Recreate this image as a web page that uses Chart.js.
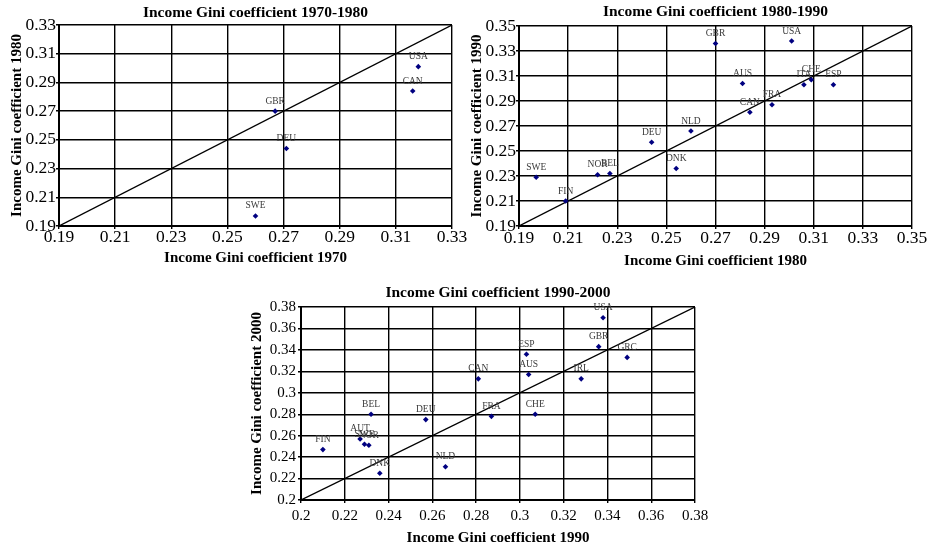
<!DOCTYPE html>
<html>
<head>
<meta charset="utf-8">
<script src="https://cdn.jsdelivr.net/npm/chart.js@4/dist/chart.umd.min.js"></script>
<style>
  html, body { margin: 0; padding: 0; background: #fff; }
  body { width: 931px; height: 548px; position: relative; overflow: hidden; }
  .box { position: absolute; }
</style>
</head>
<body>
<div class="box" style="left:0;top:0;width:475px;height:270px"><canvas id="c1"></canvas></div>
<div class="box" style="left:460px;top:0;width:471px;height:270px"><canvas id="c2"></canvas></div>
<div class="box" style="left:230px;top:280px;width:515px;height:268px"><canvas id="c3"></canvas></div>
<script>
(function() {
  'use strict';

  // --- data ---
  var TICKS_1 = [0.19, 0.21, 0.23, 0.25, 0.27, 0.29, 0.31, 0.33];
  var CODES_1 = ['USA', 'CAN', 'GBR', 'DEU', 'SWE'];
  var GINI_1970 = [0.318, 0.316, 0.267, 0.271, 0.260];
  var GINI_1980_A = [0.301, 0.284, 0.270, 0.244, 0.197];

  var TICKS_2 = [0.19, 0.21, 0.23, 0.25, 0.27, 0.29, 0.31, 0.33, 0.35];
  var CODES_2 = ['GBR', 'USA', 'AUS', 'CHE', 'ITA', 'ESP', 'FRA', 'CAN', 'NLD', 'DEU', 'DNK', 'SWE', 'NOR', 'BEL', 'FIN'];
  var GINI_1980_B = [0.270, 0.301, 0.281, 0.309, 0.306, 0.318, 0.293, 0.284, 0.260, 0.244, 0.254, 0.197, 0.222, 0.227, 0.209];
  var GINI_1990_A = [0.336, 0.338, 0.304, 0.307, 0.303, 0.303, 0.287, 0.281, 0.266, 0.257, 0.236, 0.229, 0.231, 0.232, 0.210];

  var TICKS_3 = [0.2, 0.22, 0.24, 0.26, 0.28, 0.3, 0.32, 0.34, 0.36, 0.38];
  var CODES_3 = ['FIN', 'BEL', 'AUT', 'SWE', 'NOR', 'DNK', 'DEU', 'NLD', 'CAN', 'FRA', 'USA', 'GBR', 'GRC', 'ESP', 'AUS', 'IRL', 'CHE'];
  var GINI_1990_B = [0.210, 0.232, 0.227, 0.229, 0.231, 0.236, 0.257, 0.266, 0.281, 0.287, 0.338, 0.336, 0.349, 0.303, 0.304, 0.328, 0.307];
  var GINI_2000 = [0.247, 0.280, 0.257, 0.252, 0.251, 0.225, 0.275, 0.231, 0.313, 0.278, 0.370, 0.343, 0.333, 0.336, 0.317, 0.313, 0.280];

  var SERIF = '"Liberation Serif", "Times New Roman", serif';
  var NAVY = '#000080', LABEL = '#3a3a3a';

  // draws the country codes above each point and the title over the plot area
  var giniPlugin = {
    id: 'gini',
    afterDraw: function(chart) {
      var o = chart.options.plugins.gini, ctx = chart.ctx, area = chart.chartArea;
      var meta = chart.getDatasetMeta(0);
      ctx.save();
      ctx.textAlign = 'center';
      ctx.textBaseline = 'middle';
      ctx.fillStyle = LABEL;
      ctx.font = '9.5px ' + SERIF;
      meta.data.forEach(function(p, i) { ctx.fillText(o.codes[i], p.x, p.y - 10); });
      ctx.fillStyle = '#000';
      ctx.font = 'bold 15.5px ' + SERIF;
      ctx.fillText(o.title, (area.left + area.right) / 2, o.titleY);
      ctx.restore();
    }
  };

  function axis(ticks, title, o, isX) {
    return {
      type: 'linear',
      min: ticks[0],
      max: ticks[ticks.length - 1],
      afterBuildTicks: function(s) { s.ticks = ticks.map(function(v) { return { value: v }; }); },
      afterFit: function(s) { if (isX) s.height = o.xh; else s.width = o.yw; },
      grid: { color: '#000', lineWidth: 1.4, tickLength: 3, drawTicks: true },
      border: { color: '#000', width: 2 },
      ticks: { color: '#000', font: { family: SERIF, size: o.tick, lineHeight: 1 }, padding: isX ? o.xPad : o.yPad,
        maxRotation: 0, autoSkip: false,
        callback: function(v) { return String(v); } },
      title: { display: true, text: title, color: '#000', font: { family: SERIF, size: 15, weight: 'bold' },
        padding: isX ? { top: 0, bottom: o.xtPad } : { top: o.ytPad, bottom: 0 } }
    };
  }

  function makeChart(id, o) {
    var lo = o.ticks[0], hi = o.ticks[o.ticks.length - 1];
    var pts = o.xs.map(function(x, i) { return { x: x, y: o.ys[i] }; });
    return new Chart(document.getElementById(id), {
      type: 'scatter',
      data: { datasets: [
        { data: pts, pointStyle: 'rectRot', pointRadius: 2.8, pointBackgroundColor: NAVY, pointBorderColor: NAVY, pointBorderWidth: 0 },
        { data: [{ x: lo, y: lo }, { x: hi, y: hi }], showLine: true, borderColor: '#000', borderWidth: 1.3, pointRadius: 0 }
      ]},
      options: {
        responsive: true, maintainAspectRatio: false, animation: false,
        layout: { padding: { top: o.top, right: o.right, left: 0, bottom: 0 } },
        plugins: { legend: { display: false }, tooltip: { enabled: false },
          gini: { codes: o.codes, title: o.title, titleY: o.titleY } },
        scales: {
          x: axis(o.ticks, o.xTitle, o, true),
          y: axis(o.ticks, o.yTitle, o, false)
        }
      },
      plugins: [giniPlugin]
    });
  }

  makeChart('c1', { ticks: TICKS_1, codes: CODES_1, xs: GINI_1970, ys: GINI_1980_A,
    title: 'Income Gini coefficient 1970-1980', xTitle: 'Income Gini coefficient 1970', yTitle: 'Income Gini coefficient 1980',
    top: 25, right: 23, yw: 59, xh: 44, tick: 17.5, xPad: 0, yPad: 0, xtPad: 3, ytPad: 8.5, titleY: 13 });

  makeChart('c2', { ticks: TICKS_2, codes: CODES_2, xs: GINI_1980_B, ys: GINI_1990_A,
    title: 'Income Gini coefficient 1980-1990', xTitle: 'Income Gini coefficient 1980', yTitle: 'Income Gini coefficient 1990',
    top: 26, right: 19, yw: 59, xh: 44, tick: 17.5, xPad: 1, yPad: 0, xtPad: 0, ytPad: 8.5, titleY: 12 });

  makeChart('c3', { ticks: TICKS_3, codes: CODES_3, xs: GINI_1990_B, ys: GINI_2000,
    title: 'Income Gini coefficient 1990-2000', xTitle: 'Income Gini coefficient 1990', yTitle: 'Income Gini coefficient 2000',
    top: 27, right: 50, yw: 71, xh: 48, tick: 15, xPad: 6, yPad: 2, xtPad: 1, ytPad: 18.5, titleY: 13 });
})();
</script>
</body>
</html>
